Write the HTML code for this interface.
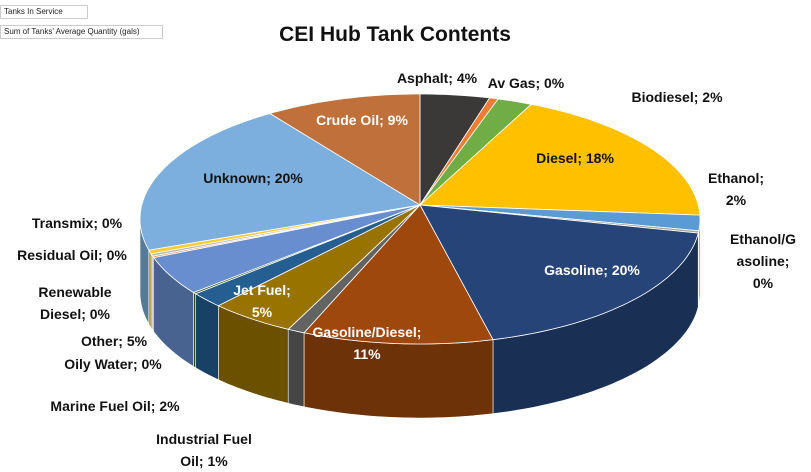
<!DOCTYPE html>
<html><head><meta charset="utf-8"><style>
body{margin:0;background:#fff;width:811px;height:472px;overflow:hidden;font-family:"Liberation Sans",sans-serif}
.box{position:absolute;left:0;border:1px solid #ccc;font-size:8px;padding:1px 3px;background:#fff;color:#222}
svg{position:absolute;left:0;top:0}
</style></head><body>
<div class="box" style="top:5px;width:80px;height:10px">Tanks In Service</div>
<div class="box" style="top:25px;width:155px;height:10px">Sum of Tanks' Average Quantity (gals)</div>
<svg width="811" height="472" id="chart">
<text x="395" y="41" text-anchor="middle" font-size="21" font-weight="bold" fill="#111">CEI Hub Tank Contents</text>
<g id="sides"></g><g id="tops"></g><g id="labels"></g>
</svg>
<script>
const categories=["Asphalt","Av Gas","Biodiesel","Diesel","Ethanol","Ethanol/Gasoline","Gasoline","Gasoline/Diesel","Industrial Fuel Oil","Jet Fuel","Marine Fuel Oil","Oily Water","Other","Renewable Diesel","Residual Oil","Transmix","Unknown","Crude Oil"];
const values=[4,0.5,2,18,2,0.3,19,11,1,5,2,0.2,5,0.2,0.3,0.5,20,9];
const pctLabels=["4%","0%","2%","18%","2%","0%","20%","11%","1%","5%","2%","0%","5%","0%","0%","0%","20%","9%"];
const colors=["#3b3938","#ed7d31","#70ad47","#ffc000","#5b9bd5","#a5a5a5","#264478","#9e480e","#636363","#997300","#255e91","#43682b","#698ed0","#f1975a","#b7b7b7","#ffcd33","#7cafdd","#c0703a"];
const labelLines=[["Asphalt; 4%"],["Av Gas; 0%"],["Biodiesel; 2%"],["Diesel; 18%"],["Ethanol;","2%"],["Ethanol/G","asoline;","0%"],["Gasoline; 20%"],["Gasoline/Diesel;","11%"],["Industrial Fuel","Oil; 1%"],["Jet Fuel;","5%"],["Marine Fuel Oil; 2%"],["Oily Water; 0%"],["Other; 5%"],["Renewable","Diesel; 0%"],["Residual Oil; 0%"],["Transmix; 0%"],["Unknown; 20%"],["Crude Oil; 9%"]];
const labelLayout=[[437,83,"#111"],[526,88,"#111"],[677,102,"#111"],[575,163,"#111"],[736,183,"#111"],[763,244,"#111"],[592,275,"#fff"],[367,337,"#fff"],[204,444,"#111"],[262,295,"#fff"],[115,411,"#111"],[113,369,"#111"],[114,346,"#111"],[75,297,"#111"],[72,260,"#111"],[77,228,"#111"],[253,183,"#111"],[362,125,"#fff"]];
const NS="http://www.w3.org/2000/svg";
const cx=420,cy=219,ax=420,ay=205,rx=280,ry=125,depth=74;
function pt(t,d){return [cx+rx*Math.sin(t),cy-ry*Math.cos(t)+(d||0)];}
function dark(h,f){let n=parseInt(h.slice(1),16);let r=(n>>16)*f,g=((n>>8)&255)*f,b=(n&255)*f;return `rgb(${r|0},${g|0},${b|0})`;}
const total=values.reduce((a,b)=>a+b,0);
let acc=0;
const sides=document.getElementById('sides'),tops=document.getElementById('tops'),labels=document.getElementById('labels');
values.forEach((v,i)=>{
  const a=acc/total*2*Math.PI; acc+=v; const b=acc/total*2*Math.PI;
  let d=`M${ax},${ay}`;const n=Math.max(2,Math.ceil((b-a)*40));
  for(let k=0;k<=n;k++){const p=pt(a+(b-a)*k/n);d+=`L${p[0].toFixed(1)},${p[1].toFixed(1)}`;}
  d+='Z';
  const tp=document.createElementNS(NS,'path');tp.setAttribute('d',d);tp.setAttribute('fill',colors[i]);tp.setAttribute('stroke','#fff');tp.setAttribute('stroke-width','0.8');
  
  
  tops.appendChild(tp);
  const s=Math.max(a,Math.PI/2),e=Math.min(b,3*Math.PI/2);
  if(e>s){let sd='';const m=Math.max(2,Math.ceil((e-s)*40));
    for(let k=0;k<=m;k++){const p=pt(s+(e-s)*k/m);sd+=(k?'L':'M')+p[0].toFixed(1)+','+p[1].toFixed(1);}
    for(let k=m;k>=0;k--){const p=pt(s+(e-s)*k/m,depth);sd+='L'+p[0].toFixed(1)+','+p[1].toFixed(1);}
    sd+='Z';
    const sp=document.createElementNS(NS,'path');sp.setAttribute('d',sd);sp.setAttribute('fill',dark(colors[i],0.7));sp.setAttribute('stroke','#fff');sp.setAttribute('stroke-width','0.6');
    
    
    sides.appendChild(sp);}
  const L=labelLayout[i];
  const t=document.createElementNS(NS,'text');t.setAttribute('x',L[0]);t.setAttribute('y',L[1]);t.setAttribute('text-anchor','middle');t.setAttribute('font-size','14');t.setAttribute('font-weight','bold');t.setAttribute('fill',L[2]);
  
  
  const lines=labelLines[i].slice();lines[lines.length-1]=lines[lines.length-1].replace(/\d+(\.\d+)?%/,pctLabels[i]);
  lines.forEach((ln,j)=>{const ts=document.createElementNS(NS,'tspan');ts.setAttribute('x',L[0]);ts.setAttribute('dy',j?22:0);ts.textContent=ln;t.appendChild(ts);});
  labels.appendChild(t);
});
</script>
</body></html>
